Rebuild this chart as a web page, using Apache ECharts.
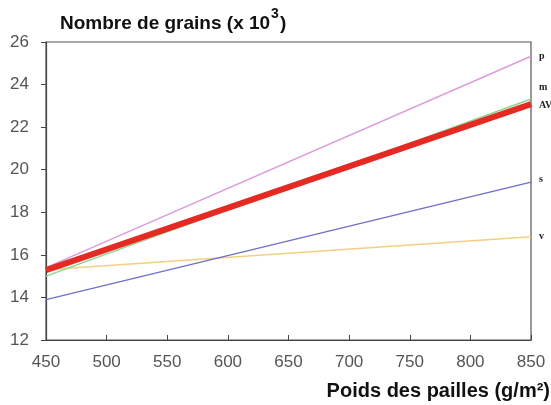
<!DOCTYPE html>
<html>
<head>
<meta charset="utf-8">
<script src="https://cdn.jsdelivr.net/npm/echarts@6/dist/echarts.min.js"></script>
<style>
  html, body { margin: 0; padding: 0; background: #fff; }
  #chart { width: 551px; height: 405px; }
</style>
</head>
<body>
<div id="chart"></div>
<script>
// Straw weight (g/m²) at the two ends of each fitted line
const strawWeight = [450, 850];
const xTicks = [450, 500, 550, 600, 650, 700, 750, 800, 850];
const yTicks = [12, 14, 16, 18, 20, 22, 24, 26];

// Grain number (x 10^3) for each group
const seriesNames = ['v', 's', 'm', 'p', 'AV'];
const grainsV  = [15.3, 16.85];
const grainsS  = [13.9, 19.42];
const grainsM  = [15.0, 23.32];
const grainsP  = [15.4, 25.33];
const grainsAV = [15.28, 23.08];

const colors = {
  v: '#f3cf84',
  s: '#6f6fcb',
  m: '#8fd48a',
  p: '#dc9cdc',
  AV: '#e42a23'
};
const widths = { v: 1.3, s: 1.3, m: 1.5, p: 1.5, AV: 6 };
const labelOffsets = { v: [0, 0], s: [0, -3], m: [0, -12], p: [0, 0], AV: [0, 1] };
const valuesByName = { v: grainsV, s: grainsS, m: grainsM, p: grainsP, AV: grainsAV };

const fontSans = 'Liberation Sans, Arial, sans-serif';

const chart = echarts.init(document.getElementById('chart'));

const series = seriesNames.map(name => ({
  name: name,
  type: 'line',
  data: strawWeight.map((x, i) => [x, valuesByName[name][i]]),
  symbol: 'none',
  lineStyle: { color: colors[name], width: widths[name] },
  z: name === 'AV' ? 5 : 3,
  endLabel: {
    show: true,
    formatter: name,
    fontFamily: 'Liberation Serif, serif',
    fontWeight: 'bold',
    fontSize: 10,
    color: '#222',
    distance: 8,
    offset: labelOffsets[name]
  }
}));

chart.setOption({
  animation: false,
  textStyle: { fontFamily: fontSans },
  title: {
    text: '{t|Nombre de grains (x 10}{sup|3}{t|)}',
    left: 55,
    top: 2,
    textStyle: {
      rich: {
        t: { fontSize: 19, fontWeight: 'bold', color: '#111', fontFamily: fontSans, verticalAlign: 'bottom', lineHeight: 26 },
        sup: { fontSize: 14, fontWeight: 'bold', color: '#111', fontFamily: fontSans, verticalAlign: 'top', lineHeight: 26, padding: [0, 1, 10, 1] }
      }
    }
  },
  grid: {
    left: 46, right: 20, top: 42, bottom: 65,
    outerBoundsMode: 'none',
    containLabel: false,
    show: true, borderColor: '#555', borderWidth: 1.2, backgroundColor: 'transparent'
  },
  xAxis: {
    type: 'value',
    min: 450,
    max: 850,
    interval: 50,
    name: 'Poids des pailles (g/m²)',
    nameLocation: 'end',
    nameGap: 0,
    nameTextStyle: { fontSize: 20, fontWeight: 'bold', color: '#111', align: 'right', verticalAlign: 'top', padding: [41, -19, 0, 0] },
    axisLine: { show: true, lineStyle: { color: '#444', width: 1.2 } },
    axisTick: { show: true, inside: true, length: 5, lineStyle: { color: '#444' } },
    axisLabel: { fontSize: 17, color: '#555', margin: 14, customValues: xTicks },
    splitLine: { show: false }
  },
  yAxis: {
    type: 'value',
    min: 12,
    max: 26,
    interval: 2,
    axisLine: { show: true, lineStyle: { color: '#444', width: 1.2 } },
    axisTick: { show: true, length: 5, lineStyle: { color: '#444' } },
    axisLabel: { fontSize: 17, color: '#555', margin: 17 },
    splitLine: { show: false }
  },
  series: series
});
</script>
</body>
</html>
